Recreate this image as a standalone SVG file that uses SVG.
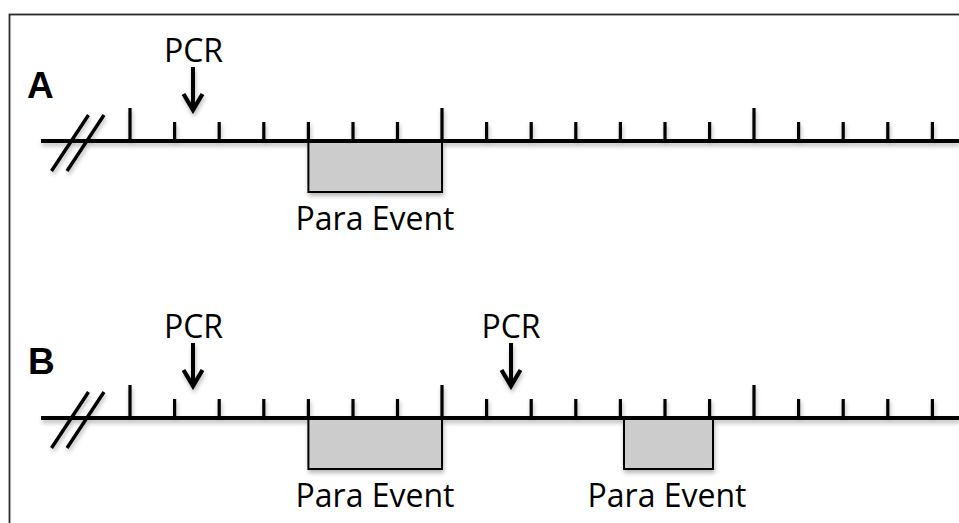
<svg xmlns="http://www.w3.org/2000/svg" width="959" height="523" viewBox="0 0 959 523">
  <style>
    .frame { fill: none; stroke: #2a2a2a; stroke-width: 1.8; }
    .axis { stroke: #000; stroke-width: 4; fill: none; }
    .tick { stroke: #000; stroke-width: 3.2; fill: none; }
    .hash { stroke: #000; stroke-width: 3.4; fill: none; stroke-linecap: butt; }
    .event { fill: #cccccc; stroke: #000; stroke-width: 2; }
    .label { font-family: "Open Sans", "Liberation Sans", sans-serif; font-size: 32px; fill: #000; text-anchor: middle; }
    .panel { font-family: "Liberation Sans", Arial, sans-serif; font-weight: bold; font-size: 37px; fill: #000; }
    .arrow { stroke: #000; stroke-width: 4; fill: none; marker-end: url(#chevron); }
  </style>
  <defs>
    <filter id="soft-shadow" x="-5%" y="-20%" width="110%" height="160%">
      <feDropShadow dx="1" dy="3" stdDeviation="2" flood-color="#000" flood-opacity="0.28"/>
    </filter>
    <marker id="chevron" markerUnits="userSpaceOnUse" viewBox="-24 -14 28 28" refX="0" refY="0" markerWidth="28" markerHeight="28" orient="auto">
      <path d="M-16,-9.5 L0,0 L-16,9.5" fill="none" stroke="#000" stroke-width="4.2" stroke-linejoin="miter"/>
    </marker>
    <!-- tick pattern shared by both timelines: minor ticks 19px, major ticks 33px -->
    <g id="ticks">
      <path class="tick" d="M130,0 V-33 M442,0 V-33 M754,0 V-33"/>
      <path class="tick" d="M174.6,0 V-19 M219.2,0 V-19 M263.8,0 V-19 M308.4,0 V-19 M353,0 V-19 M397.5,0 V-19
                            M486.6,0 V-19 M531.2,0 V-19 M575.8,0 V-19 M620.4,0 V-19 M665,0 V-19 M709.6,0 V-19
                            M798.6,0 V-19 M843.2,0 V-19 M887.8,0 V-19 M932.4,0 V-19"/>
    </g>
  </defs>

  <rect class="frame" x="9.5" y="14.5" width="970" height="530"/>

  <!-- Panel A -->
  <g id="panel-a" filter="url(#soft-shadow)">
    <g id="timeline-a">
      <line class="axis" x1="41" y1="141" x2="959" y2="141"/>
      <use href="#ticks" transform="translate(0,141)"/>
      <path class="hash" d="M51.5,171 L88.5,115 M67,171 L104,115"/>
    </g>
    <g id="event-a1">
      <rect class="event" x="308.4" y="142" width="133.6" height="50"/>
    </g>
  </g>
  <text id="label-a" class="panel" x="27" y="98">A</text>
  <text id="event-a1-label" class="label" x="375" y="230">Para Event</text>
  <text id="pcr-a1-label" class="label" x="193.5" y="62">PCR</text>

  <!-- Panel B -->
  <g id="panel-b" filter="url(#soft-shadow)">
    <g id="timeline-b">
      <line class="axis" x1="41" y1="418" x2="959" y2="418"/>
      <use href="#ticks" transform="translate(0,418)"/>
      <path class="hash" d="M51.5,448 L88.5,392 M67,448 L104,392"/>
    </g>
    <g id="event-b1">
      <rect class="event" x="308.4" y="419" width="133.6" height="50"/>
    </g>
    <g id="event-b2">
      <rect class="event" x="624" y="419" width="89" height="50"/>
    </g>
  </g>
  <text id="label-b" class="panel" x="28" y="374">B</text>
  <text id="event-b1-label" class="label" x="375" y="507">Para Event</text>
  <text id="event-b2-label" class="label" x="667" y="507">Para Event</text>
  <text id="pcr-b1-label" class="label" x="193.5" y="338">PCR</text>
  <text id="pcr-b2-label" class="label" x="511" y="338">PCR</text>

  <!-- PCR arrows -->
  <g id="connectors" filter="url(#soft-shadow)">
    <line class="arrow" x1="193" y1="67" x2="193" y2="110"/>
    <line class="arrow" x1="193" y1="343" x2="193" y2="386"/>
    <line class="arrow" x1="511" y1="343" x2="511" y2="386"/>
  </g>
</svg>
